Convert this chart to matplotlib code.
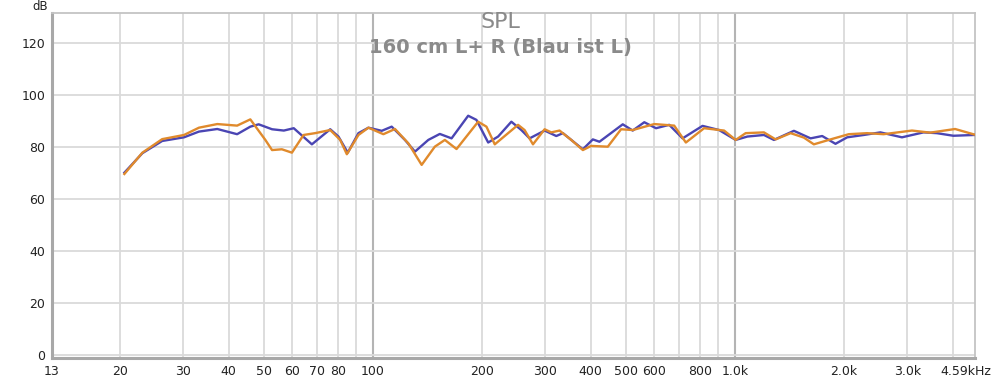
import matplotlib
matplotlib.use("Agg")
import matplotlib.pyplot as plt
import matplotlib.transforms as mtransforms

# ---- data ----
blue_freq = [20.6, 23.1, 26.2, 30.1, 33.1, 37.2, 42.2, 45.9, 48.4, 52.7, 56.8, 60.5,
             67.9, 76.3, 80.4, 85.3, 91.3, 97.3, 105.9, 112.8, 122.7, 130.8, 142.4,
             153.2, 165.1, 183.5, 193.4, 208.4, 222.0, 241.5, 257.3, 271.2, 298.4,
             321.4, 335.2, 380.6, 405.5, 422.9, 490.5, 522.6, 562.5, 606.0, 659.2,
             717.6, 814.7, 905.1, 1006, 1084, 1204, 1283, 1457, 1620, 1744, 1898,
             2045, 2271, 2525, 2897, 3322, 3617, 4018, 4584]
blue_db = [70.1, 77.6, 82.3, 83.7, 85.9, 86.9, 84.9, 87.8, 88.7, 86.8, 86.3, 87.2,
           81.0, 86.8, 84.0, 77.8, 85.3, 87.4, 86.2, 87.8, 82.7, 78.2, 82.7,
           85.0, 83.3, 92.0, 90.4, 81.7, 84.0, 89.7, 86.5, 83.3, 86.3,
           84.2, 85.3, 79.1, 82.9, 82.0, 88.7, 86.3, 89.5, 87.2, 88.5,
           83.3, 88.1, 86.5, 82.7, 84.0, 84.6, 82.7, 86.2, 83.3, 84.2, 81.2,
           83.7, 84.6, 85.6, 83.7, 85.6, 85.3, 84.3, 84.6]

orange_freq = [20.6, 23.1, 26.2, 30.1, 33.1, 37.2, 42.2, 45.9, 50.5, 52.7, 56.1, 59.8,
               64.4, 69.3, 76.3, 81.3, 84.8, 91.3, 97.3, 107.0, 115.2, 125.4, 136.5,
               148.4, 158.2, 170.4, 195.5, 206.1, 217.3, 252.0, 262.7, 277.1, 298.4,
               311.3, 328.1, 353.4, 380.6, 401.2, 446.0, 485.3, 522.6, 599.5, 680.4,
               732.8, 823.0, 934.4, 1006, 1072, 1204, 1297, 1427, 1552, 1654, 1839,
               2065, 2321, 2578, 3087, 3467, 4062, 4584]
orange_db = [69.6, 77.8, 83.0, 84.6, 87.4, 88.8, 88.2, 90.6, 82.7, 78.8, 79.1, 77.8,
             84.6, 85.3, 86.5, 82.7, 77.2, 84.6, 87.4, 84.9, 86.9, 81.4, 73.1,
             80.1, 82.7, 79.2, 89.7, 87.8, 81.0, 88.5, 86.5, 81.0, 86.8,
             85.6, 86.3, 82.7, 78.8, 80.4, 80.1, 86.8, 86.5, 88.8, 88.2,
             81.7, 87.2, 86.3, 82.7, 85.3, 85.6, 82.9, 85.3, 83.6, 81.0, 82.9,
             84.9, 85.3, 84.9, 86.3, 85.5, 86.9, 84.8]

x_ticks = [13, 20, 30, 40, 50, 60, 70, 80, 100, 200, 300, 400, 500, 600, 800,
           1000, 2000, 3000, 4590]
x_tick_labels = ["13", "20", "30", "40", "50", "60", "70", "80", "100", "200", "300",
                 "400", "500", "600", "800", "1.0k", "2.0k", "3.0k", "4.59kHz"]
x_minor_grid = [20, 30, 40, 50, 60, 70, 80, 90, 200, 300, 400, 500, 600, 700, 800,
                900, 2000, 3000, 4000]
x_major_grid = [100, 1000]
y_ticks = [0, 20, 40, 60, 80, 100, 120]

title1 = "SPL"
title2 = "160 cm L+ R (Blau ist L)"

# ---- figure ----
fig = plt.figure(figsize=(10, 3.79), dpi=100)
ax = fig.add_axes([0.052, 21 / 379, 0.923, 345 / 379])
ax.set_xscale("log")
ax.set_xlim(13.2, 4610)
ax.set_ylim(-1.15, 131.5)

for f in x_minor_grid:
    ax.axvline(f, color="#dadada", lw=1.3, zorder=0)
for f in x_major_grid:
    ax.axvline(f, color="#b4b4b4", lw=1.5, zorder=0)
for y in y_ticks:
    ax.axhline(y, color="#dadada", lw=1.3, zorder=0)

ax.plot(blue_freq, blue_db, color="#4a45b3", lw=1.7, zorder=3)
ax.plot(orange_freq, orange_db, color="#e08a2c", lw=1.7, zorder=4)

ax.minorticks_off()
ax.set_xticks(x_ticks)
ax.set_xticklabels(x_tick_labels)
ax.set_yticks(y_ticks)
ax.tick_params(axis="both", length=0, labelsize=9, labelcolor="#222222")
ax.tick_params(axis="x", pad=5)
ax.tick_params(axis="y", pad=5)

# shift last label slightly left
lbl = ax.get_xticklabels()[-1]
lbl.set_transform(lbl.get_transform() +
                  mtransforms.ScaledTranslation(-9 / 100, 0, fig.dpi_scale_trans))

for side in ["left", "bottom"]:
    ax.spines[side].set_color("#a8a8a8")
    ax.spines[side].set_linewidth(2.2)
for side in ["top", "right"]:
    ax.spines[side].set_color("#c4c4c4")
    ax.spines[side].set_linewidth(1.3)

fig.text(0.5, 1 - 22 / 379, title1, ha="center", va="center", fontsize=16,
         color="#8a8a8a")
fig.text(0.5, 1 - 47 / 379, title2, ha="center", va="center", fontsize=14,
         color="#8a8a8a", fontweight="bold")
fig.text(0.040, 1 - 6 / 379, "dB", ha="center", va="center", fontsize=8.5,
         color="#222222")

fig.savefig("out.png", dpi=100)
